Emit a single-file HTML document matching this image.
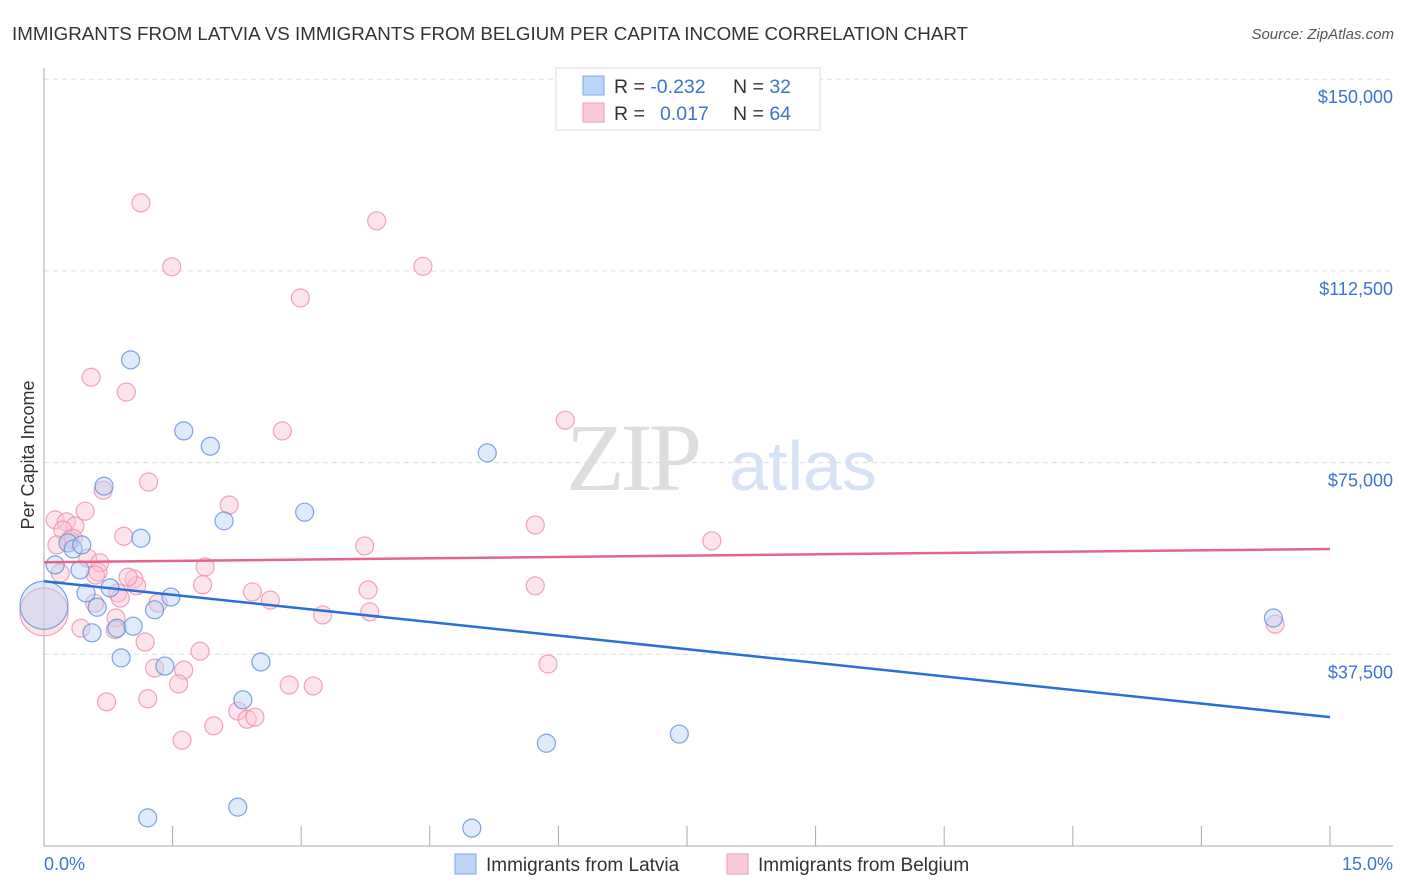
<!DOCTYPE html>
<html><head><meta charset="utf-8">
<style>
body{margin:0;background:#fff;font-family:"Liberation Sans",sans-serif;}
svg{display:block}
</style></head><body>
<svg id="chart" width="1406" height="892" xmlns="http://www.w3.org/2000/svg">
<text x="12" y="40" font-size="18.75" fill="#333">IMMIGRANTS FROM LATVIA VS IMMIGRANTS FROM BELGIUM PER CAPITA INCOME CORRELATION CHART</text>
<text x="1394" y="39" font-size="15" fill="#555" text-anchor="end" font-style="italic">Source: ZipAtlas.com</text>
<g>
<text x="632" y="490" font-size="96" font-family="Liberation Serif,serif" fill="#ddd" text-anchor="middle" letter-spacing="-4">ZIP</text>
<text x="803" y="490" font-size="70" fill="#d5e3f5" text-anchor="middle">atlas</text>
</g>
<g id="grid"></g>
<g id="axes"></g>
<g id="marks"></g>
<text transform="translate(34,455) rotate(-90)" font-size="18" fill="#333" text-anchor="middle">Per Capita Income</text>
<g>
<rect x="556" y="68" width="264" height="62" fill="#fff" stroke="#ddd"/>
<rect x="583" y="76" width="21" height="19" fill="#bcd4f7" stroke="#7fa9e8"/>
<rect x="583" y="103" width="21" height="19" fill="#fcc9d8" stroke="#ef9ab3"/>
<text x="614" y="93" font-size="19.5" fill="#333">R = <tspan fill="#3b74d1">-0.232</tspan></text>
<text x="733" y="93" font-size="19.5" fill="#333">N = <tspan fill="#3b74d1">32</tspan></text>
<text x="614" y="120" font-size="19.5" fill="#333">R = </text>
<text x="660" y="120" font-size="19.5" fill="#3b74d1">0.017</text>
<text x="733" y="120" font-size="19.5" fill="#333">N = <tspan fill="#3b74d1">64</tspan></text>
</g>
<g>
<rect x="455" y="854" width="21" height="20" fill="#bcd4f7" stroke="#7fa9e8"/>
<text x="486" y="871" font-size="19" fill="#333">Immigrants from Latvia</text>
<rect x="727" y="854" width="21" height="20" fill="#fcc9d8" stroke="#ef9ab3"/>
<text x="758" y="871" font-size="19" fill="#333">Immigrants from Belgium</text>
</g>
</svg>
<script>
const yTicks=[37500,75000,112500,150000];
const yTickLabels=["$37,500","$75,000","$112,500","$150,000"];
const xTickLabels=["0.0%","15.0%"];
const latviaX=[0.13,0.28,0.34,0.42,0.49,0.62,0.56,0.70,0.77,0.85,0.90,1.01,1.04,1.13,1.29,1.41,1.48,1.63,1.94,2.10,2.32,2.53,3.04,5.17,5.86,7.41,1.21,2.26,4.99,14.34,0,0.44];
const latviaY=[55.0,59.3,58.1,54.0,49.5,46.7,41.7,70.4,50.5,42.6,36.8,95.1,43.0,60.2,46.2,35.2,48.7,81.2,78.2,63.6,28.6,36.0,65.3,76.9,20.1,21.9,5.5,7.6,3.5,44.6,47.1,58.9];
const latviaBig=[30];
const belgiumX=[1.13,1.49,3.88,4.42,2.99,0.55,0.96,2.78,6.08,0.69,1.22,2.16,0.48,0.13,0.26,0.36,0.22,0.30,5.73,7.79,3.74,0.15,0.93,0.51,0.63,0.86,1.05,1.08,1.88,1.85,2.43,2.64,3.78,5.73,0.59,1.33,0.84,0.83,0.43,1.18,1.82,3.25,3.80,1.29,1.63,1.57,2.86,3.14,0.73,1.21,2.26,2.37,2.46,1.61,1.98,5.88,14.36,0,0.19,0.65,0.98,0.34,0.89,0.60];
const belgiumY=[125.8,113.3,122.3,113.4,107.2,91.7,88.8,81.2,83.3,69.6,71.2,66.7,65.5,63.8,63.4,62.6,61.8,59.9,62.8,59.7,58.7,58.9,60.6,56.3,53.6,49.5,52.2,50.9,54.6,51.1,49.7,48.1,50.1,50.9,47.5,47.5,44.6,42.3,42.6,39.9,38.1,45.2,45.8,34.8,34.4,31.7,31.5,31.3,28.2,28.8,26.4,24.8,25.2,20.7,23.5,35.6,43.4,45.8,53.4,55.4,52.6,60.2,48.5,53.0];
const belgiumBig=[57];
const latviaTrend=[51.8,25.2];
const belgiumTrend=[55.5,58.1];

const NS="http://www.w3.org/2000/svg";
const X0=44,X1=1330,Y0=846,PXPER=191.7/37500;
const xs=v=>X0+(X1-X0)*v/15;
const ys=v=>Y0-v*PXPER;
function mk(t,a,p){const e=document.createElementNS(NS,t);for(const k in a)e.setAttribute(k,a[k]);p.appendChild(e);return e;}
const grid=document.getElementById('grid'),axes=document.getElementById('axes'),marks=document.getElementById('marks');
yTicks.forEach((t,i)=>{
  const l=mk('line',{x1:X0,x2:1393,y1:ys(t),y2:ys(t),stroke:'#ddd','stroke-dasharray':'5,4'},grid);
  
  
  const tx=mk('text',{x:1393,y:ys(t)+24,'font-size':18,fill:'#3b74d1','text-anchor':'end'},axes);
  tx.textContent=yTickLabels[i];
  
  
});
const ya=mk('line',{x1:X0,x2:X0,y1:68,y2:Y0,stroke:'#aaa'},axes);


const xa=mk('line',{x1:X0,x2:1393,y1:Y0,y2:Y0,stroke:'#aaa'},axes);


for(let i=1;i<=10;i++){
  const tk=mk('line',{x1:xs(i*1.5),x2:xs(i*1.5),y1:Y0-20,y2:Y0,stroke:'#aaa'},axes);
  
  
}
[[0,'start',X0],[1,'end',1393]].forEach(([i,a,x])=>{
  const tx=mk('text',{x:x,y:870,'font-size':18,fill:'#3b74d1','text-anchor':a},axes);
  tx.textContent=xTickLabels[i];
  
  
});
function pts(X,Y,big,fill,stroke,name){
  X.forEach((x,i)=>{
    const c=mk('circle',{cx:xs(x),cy:ys(Y[i]*1000),r:big.includes(i)?24:9,fill:fill,'fill-opacity':0.45,stroke:stroke,'stroke-opacity':0.8,'stroke-width':1.2},marks);
    
    
  });
}
pts(belgiumX,belgiumY,belgiumBig,'#fbc3d3','#ec8fac','belgium-point');
pts(latviaX,latviaY,latviaBig,'#b8d0f4','#5b8fdc','latvia-point');
const lt=mk('line',{x1:xs(0),y1:ys(latviaTrend[0]*1000),x2:xs(15),y2:ys(latviaTrend[1]*1000),stroke:'#2a6fd6','stroke-width':2.5},marks);


const bt=mk('line',{x1:xs(0),y1:ys(belgiumTrend[0]*1000),x2:xs(15),y2:ys(belgiumTrend[1]*1000),stroke:'#e5648e','stroke-width':2.5},marks);


</script>
</body></html>
